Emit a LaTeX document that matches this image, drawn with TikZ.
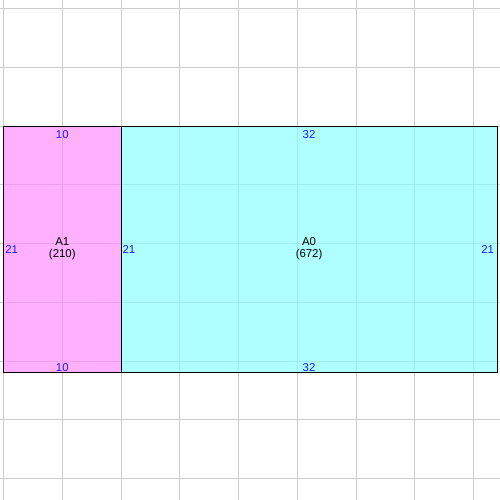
\documentclass[tikz,border=0pt]{standalone}
\usepackage{fontspec}
\setmainfont{Liberation Sans}
\usepackage{tikz}
\definecolor{sheetpink}{HTML}{FF86FF}
\definecolor{sheetcyan}{HTML}{86FFFF}
\definecolor{gridgray}{HTML}{CCCCCC}
\definecolor{sizeblue}{HTML}{1A1AFF}

\begin{document}
\begin{tikzpicture}[x=0.25cm, y=0.25cm, font=\fontsize{6.9}{7.5}\selectfont]
\useasboundingbox (-0.3,-10.81) rectangle (42.25,31.74);
\coordinate (a) at (0,0);
\coordinate (b) at (10,21);
\coordinate (c) at (10,0);
\coordinate (d) at (42,21);
% draws grid
\draw[gridgray, line width=0.6pt, xstep=5, ystep=5, yshift=0.25cm] (-0.3,-11.81) grid (42.25,30.74);
% draws sheets
\begin{scope}[line width=0.6pt]
\filldraw[fill=sheetpink, fill opacity=0.65, draw=black] (a) rectangle (b);
\filldraw[fill=sheetcyan, fill opacity=0.65, draw=black] (c) rectangle (d);
\end{scope}
% labels sheets
\node[align=center] (A1) at (5,10.55) {A1\\(210)};
\node[align=center] (A0) at (26,10.55) {A0\\(672)};
% labels sides
\begin{scope}[sizeblue, inner sep=0pt]
\node (A1top) at (5,20.3) {10};
\node (A1bot) at (5,0.5) {10};
\node (A0top) at (26,20.3) {32};
\node (A0bot) at (26,0.5) {32};
\node[anchor=west] (A1left) at (0.13,10.5) {21};
\node[anchor=west] (A0left) at (10.11,10.5) {21};
\node[anchor=east] (A0right) at (41.77,10.5) {21};
\end{scope}
\end{tikzpicture}
\end{document}
